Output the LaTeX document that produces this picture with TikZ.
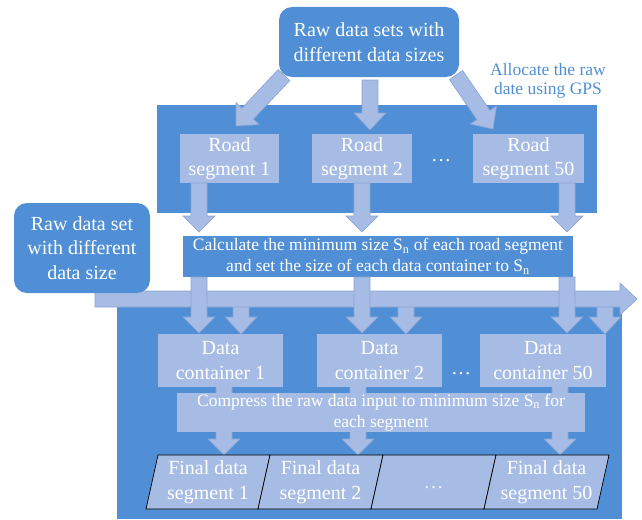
\documentclass[tikz,border=0pt]{standalone}
\usepackage{fontspec}
\setmainfont{Liberation Serif}
\usetikzlibrary{calc}
\definecolor{panelblue}{RGB}{80,143,213}
\definecolor{lightblue}{RGB}{167,188,228}
\definecolor{arrowline}{RGB}{138,163,212}
\tikzset{
  panel/.style={fill=panelblue, draw=none, inner sep=0pt},
  darkbox/.style={fill=panelblue, text=white, align=center, inner sep=0pt},
  lightbox/.style={fill=lightblue, text=white, align=center, inner sep=0pt},
  blockarr/.style={fill=lightblue, draw=arrowline, line width=0.6pt, line join=miter},
  finalbox/.style={fill=lightblue, draw=black, line width=0.7pt},
  bigtext/.style={font=\fontsize{20}{24.5}\selectfont},
  smalltext/.style={font=\fontsize{17.5}{21}\selectfont},
  notetext/.style={font=\fontsize{17.5}{19.5}\selectfont, text=panelblue, align=center},
}
% block arrow from #2 to #3, head length #1
\newcommand\blockarrow[3][17pt]{%
  \coordinate (ba-h) at ($#3!#1!#2$);
  \path[blockarr]
    ($#2!8pt!90:#3$) -- ($(ba-h)!8pt!-90:#2$) -- ($(ba-h)!16pt!-90:#2$) -- #3
    -- ($(ba-h)!16pt!90:#2$) -- ($(ba-h)!8pt!90:#2$) -- ($#2!8pt!-90:#3$) -- cycle;
}
\begin{document}
\begin{tikzpicture}[x=1pt,y=-1pt]
\useasboundingbox (0,0) rectangle (642,519);

% background panels
\node[panel, minimum width=440pt, minimum height=108pt] (segpanel) at (377,159) {};
\node[panel, minimum width=505pt, minimum height=214pt] (cntpanel) at (369.5,412) {};

% allocation arrows from the raw data to the road segments
\coordinate (gL) at (284,75);  \coordinate (hL) at (236,126);
\coordinate (gM) at (370,80);  \coordinate (hM) at (370,130);
\coordinate (gR) at (456,75);  \coordinate (hR) at (493,129);
\blockarrow{(gL)}{(hL)}
\blockarrow{(gM)}{(hM)}
\blockarrow{(gR)}{(hR)}

\node[darkbox, bigtext, rounded corners=13pt, minimum width=180pt, minimum height=70pt]
  (raw) at (369,42) {Raw data sets with\\different data sizes};
\node[notetext] (note) at (548,81) {Allocate the raw\\date using GPS};

% road segments
\node[lightbox, bigtext, minimum width=99pt, minimum height=49pt] (rs1) at (229.5,158.5) {Road\\segment 1};
\node[lightbox, bigtext, minimum width=100pt, minimum height=49pt] (rs2) at (362,158.5) {Road\\segment 2};
\node[lightbox, bigtext, minimum width=111pt, minimum height=49pt] (rs50) at (528.5,158.5) {Road\\segment 50};
\node[text=white, bigtext] (rsdots) at (441,161) {…};

% road segments to the size calculation
\coordinate (r1) at (199,183); \coordinate (k1) at (199,232);
\coordinate (r2) at (362,183); \coordinate (k2) at (362,232);
\coordinate (r3) at (567,183); \coordinate (k3) at (567,232);
\blockarrow[16pt]{(r1)}{(k1)}
\blockarrow[16pt]{(r2)}{(k2)}
\blockarrow[16pt]{(r3)}{(k3)}

\node[darkbox, smalltext, minimum width=390pt, minimum height=41pt] (calc) at (378,256.5)
  {Calculate the minimum size S\textsubscript{n} of each road segment\\and set the size of each data container to S\textsubscript{n}};

% raw data input stream into the containers
\coordinate (sL) at (95,299); \coordinate (sR) at (637,299);
\coordinate (b1) at (241,299); \coordinate (q1) at (241,334);
\coordinate (b2) at (406,299); \coordinate (q2) at (406,334);
\coordinate (b3) at (605,299); \coordinate (q3) at (605,334);
\blockarrow{(b1)}{(q1)}
\blockarrow{(b2)}{(q2)}
\blockarrow{(b3)}{(q3)}
\blockarrow{(sL)}{(sR)}

% container sizes from the calculation
\coordinate (a1) at (199,277); \coordinate (p1) at (199,333);
\coordinate (a2) at (362,277); \coordinate (p2) at (362,333);
\coordinate (a3) at (567,277); \coordinate (p3) at (567,333);
\blockarrow[16pt]{(a1)}{(p1)}
\blockarrow[16pt]{(a2)}{(p2)}
\blockarrow[16pt]{(a3)}{(p3)}

\node[darkbox, bigtext, rounded corners=13pt, minimum width=136pt, minimum height=90pt]
  (rawset) at (82,248) {Raw data set\\with different\\data size};

% containers to the final segments
\coordinate (c1) at (224,386); \coordinate (f1t) at (224,455);
\coordinate (c2) at (358,386); \coordinate (f2t) at (358,455);
\coordinate (c3) at (560,386); \coordinate (f3t) at (560,455);
\blockarrow[16pt]{(c1)}{(f1t)}
\blockarrow[16pt]{(c2)}{(f2t)}
\blockarrow[16pt]{(c3)}{(f3t)}

\node[lightbox, bigtext, minimum width=125pt, minimum height=53pt] (dc1) at (220.5,360.5) {Data\\container 1};
\node[lightbox, bigtext, minimum width=125pt, minimum height=53pt] (dc2) at (379.5,360.5) {Data\\container 2};
\node[lightbox, bigtext, minimum width=126pt, minimum height=53pt] (dc50) at (543,360.5) {Data\\container 50};
\node[text=white, bigtext] (dcdots) at (461,374) {…};

\node[lightbox, smalltext, minimum width=408pt, minimum height=39pt] (compress) at (381,412.5)
  {Compress the raw data input to minimum size S\textsubscript{n} for\\each segment};

% final data segments
\path[finalbox] (158,455) -- (270,455) -- (258,509) -- (146,509) -- cycle;
\path[finalbox] (270,455) -- (383,455) -- (371,509) -- (258,509) -- cycle;
\path[finalbox] (383,455) -- (496,455) -- (484,509) -- (371,509) -- cycle;
\path[finalbox] (496,455) -- (609,455) -- (597,509) -- (484,509) -- cycle;
\node[text=white, bigtext, align=center] (fin1) at (208,482) {Final data\\segment 1};
\node[text=white, bigtext, align=center] (fin2) at (320.5,482) {Final data\\segment 2};
\node[text=white!80!lightblue, bigtext] (fin3) at (433.5,488) {…};
\node[text=white, bigtext, align=center] (fin50) at (546.5,482) {Final data\\segment 50};
\end{tikzpicture}
\end{document}
